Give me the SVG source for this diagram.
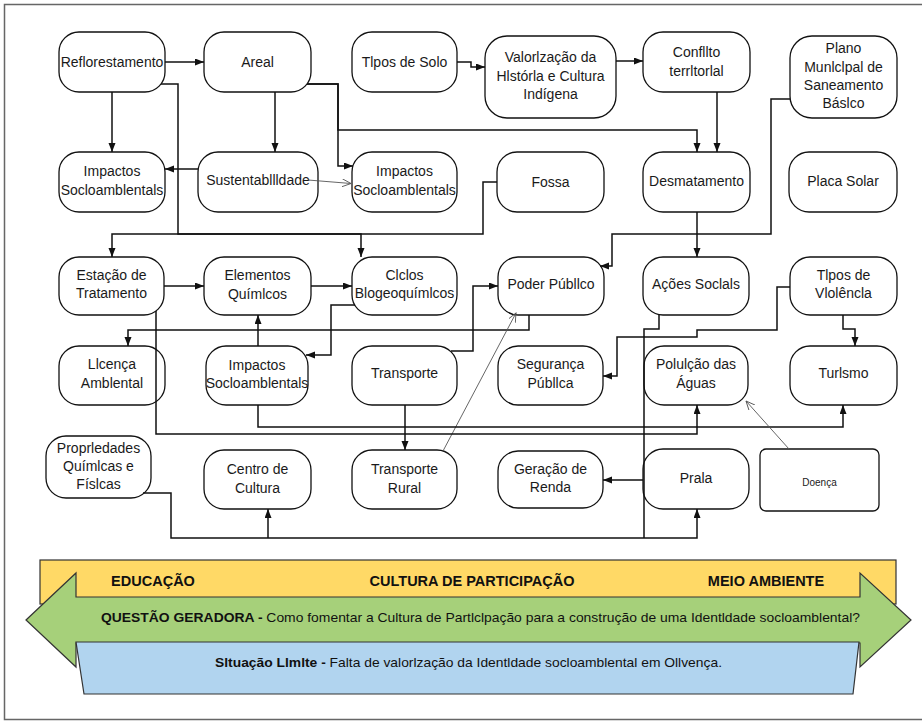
<svg xmlns="http://www.w3.org/2000/svg" width="923" height="722" viewBox="0 0 923 722">
<defs>
<marker id="ah" markerUnits="userSpaceOnUse" markerWidth="10" markerHeight="8" refX="9" refY="3.5" orient="auto"><path d="M0,0 L9,3.5 L0,7 z" fill="#111"/></marker>
<marker id="oh" markerUnits="userSpaceOnUse" markerWidth="10" markerHeight="10" refX="9" refY="4" orient="auto"><path d="M0,0 L9,4 L0,8" fill="none" stroke="#555" stroke-width="0.9"/></marker>
<style>
.n{fill:#fff;stroke:#111;stroke-width:1.3}
.t{font-family:"Liberation Sans",Arial,sans-serif;font-size:14px;text-anchor:middle;fill:#1a1a1a}
.c{fill:none;stroke:#111;stroke-width:1.5;marker-end:url(#ah)}
.p{fill:none;stroke:#111;stroke-width:1.5}
.th{fill:none;stroke:#555;stroke-width:0.9;marker-end:url(#oh)}
.b{font-family:"Liberation Sans",Arial,sans-serif;font-weight:bold;fill:#111}
.r{font-family:"Liberation Sans",Arial,sans-serif;fill:#111}
</style>
</defs>
<rect width="923" height="722" fill="#fff"/>
<path d="M922,4.5 H4.5 V719.5 H922" fill="none" stroke="#666" stroke-width="1.5"/>

<g id="nodes">
<g id="n-reflorestamento"><rect class="n" x="59" y="32" width="106" height="60" rx="20"/><text class="t" x="112" y="67">Reflorestamento</text></g>
<g id="n-areal"><rect class="n" x="204" y="32" width="107" height="60" rx="20"/><text class="t" x="257.5" y="67">Areal</text></g>
<g id="n-tipos-solo"><rect class="n" x="352" y="32" width="105" height="60" rx="20"/><text class="t" x="404.5" y="67">Tlpos de Solo</text></g>
<g id="n-valorizacao"><rect class="n" x="485" y="36" width="131" height="82" rx="22"/><text class="t" x="550.5" y="62">Valorlzação da</text><text class="t" x="550.5" y="81">Hlstórla e Cultura</text><text class="t" x="550.5" y="99">Indígena</text></g>
<g id="n-conflito"><rect class="n" x="643" y="32" width="107" height="60" rx="20"/><text class="t" x="696.5" y="57">Confllto</text><text class="t" x="696.5" y="76">terrltorlal</text></g>
<g id="n-plano"><rect class="n" x="790" y="36" width="107" height="82" rx="22"/><text class="t" x="843.5" y="53">Plano</text><text class="t" x="843.5" y="72">Munlclpal de</text><text class="t" x="843.5" y="90">Saneamento</text><text class="t" x="843.5" y="108">Báslco</text></g>

<g id="n-impactos-1"><rect class="n" x="59" y="152" width="106" height="60" rx="20"/><text class="t" x="112" y="176">Impactos</text><text class="t" x="112" y="195">Socloamblentals</text></g>
<g id="n-sustentabilidade"><rect class="n" x="198" y="152" width="120" height="60" rx="20"/><text class="t" x="258" y="185">Sustentabllldade</text></g>
<g id="n-impactos-2"><rect class="n" x="352" y="152" width="105" height="60" rx="20"/><text class="t" x="404.5" y="176">Impactos</text><text class="t" x="404.5" y="195">Socloamblentals</text></g>
<g id="n-fossa"><rect class="n" x="497" y="152" width="107" height="60" rx="20"/><text class="t" x="550.5" y="187">Fossa</text></g>
<g id="n-desmatamento"><rect class="n" x="643" y="152" width="107" height="60" rx="20"/><text class="t" x="696.5" y="186">Desmatamento</text></g>
<g id="n-placa-solar"><rect class="n" x="789" y="152" width="108" height="60" rx="20"/><text class="t" x="843" y="186">Placa Solar</text></g>

<g id="n-estacao"><rect class="n" x="59" y="257" width="105" height="58" rx="20"/><text class="t" x="111.5" y="280">Estação de</text><text class="t" x="111.5" y="298">Tratamento</text></g>
<g id="n-elementos"><rect class="n" x="204" y="257" width="107" height="58" rx="20"/><text class="t" x="257.5" y="280">Elementos</text><text class="t" x="257.5" y="299">Químlcos</text></g>
<g id="n-ciclos"><rect class="n" x="352" y="257" width="105" height="58" rx="20"/><text class="t" x="404.5" y="280">Clclos</text><text class="t" x="404.5" y="298">Blogeoquímlcos</text></g>
<g id="n-poder"><rect class="n" x="498" y="257" width="106" height="58" rx="20"/><text class="t" x="551" y="289">Poder Públlco</text></g>
<g id="n-acoes"><rect class="n" x="643" y="257" width="106" height="58" rx="20"/><text class="t" x="696" y="289">Ações Soclals</text></g>
<g id="n-tipos-violencia"><rect class="n" x="790" y="257" width="107" height="58" rx="20"/><text class="t" x="843.5" y="280">Tlpos de</text><text class="t" x="843.5" y="298">Vlolêncla</text></g>

<g id="n-licenca"><rect class="n" x="59" y="346" width="106" height="59" rx="20"/><text class="t" x="112" y="369">Llcença</text><text class="t" x="112" y="388">Amblental</text></g>
<g id="n-impactos-3"><rect class="n" x="206" y="346" width="102" height="59" rx="20"/><text class="t" x="257" y="370">Impactos</text><text class="t" x="257" y="388">Socloamblentals</text></g>
<g id="n-transporte"><rect class="n" x="352" y="346" width="105" height="59" rx="20"/><text class="t" x="404.5" y="378">Transporte</text></g>
<g id="n-seguranca"><rect class="n" x="498" y="346" width="105" height="59" rx="20"/><text class="t" x="550.5" y="369">Segurança</text><text class="t" x="550.5" y="388">Públlca</text></g>
<g id="n-poluicao"><rect class="n" x="644" y="346" width="104" height="59" rx="20"/><text class="t" x="696" y="369">Polulção das</text><text class="t" x="696" y="388">Águas</text></g>
<g id="n-turismo"><rect class="n" x="790" y="346" width="107" height="59" rx="20"/><text class="t" x="843.5" y="378">Turlsmo</text></g>

<g id="n-propriedades"><rect class="n" x="46" y="436" width="105" height="62" rx="20"/><text class="t" x="98.5" y="453">Proprledades</text><text class="t" x="98.5" y="471">Químlcas e</text><text class="t" x="98.5" y="489">Físlcas</text></g>
<g id="n-centro"><rect class="n" x="204" y="450" width="107" height="59" rx="20"/><text class="t" x="257.5" y="474">Centro de</text><text class="t" x="257.5" y="493">Cultura</text></g>
<g id="n-transporte-rural"><rect class="n" x="352" y="450" width="105" height="59" rx="20"/><text class="t" x="404.5" y="474">Transporte</text><text class="t" x="404.5" y="493">Rural</text></g>
<g id="n-geracao"><rect class="n" x="498" y="451" width="105" height="57" rx="20"/><text class="t" x="550.5" y="474">Geração de</text><text class="t" x="550.5" y="492">Renda</text></g>
<g id="n-praia"><rect class="n" x="643" y="449" width="106" height="60" rx="20"/><text class="t" x="696" y="483">Prala</text></g>
<g id="n-doenca"><rect class="n" x="760" y="449" width="119" height="62" rx="6"/><text class="t" x="819.5" y="486" style="font-size:10px">Doença</text></g>
</g>

<g id="connectors">
<path class="c" d="M165,62 H204"/>
<path class="c" d="M112,92 V152"/>
<path class="c" d="M161,84 H178 V234 H361 V257"/>
<path class="c" d="M497,182 H483 V234 H112 V257"/>
<path class="c" d="M275,92 V152"/>
<path class="c" d="M307,84 H338 V166 H353"/>
<path class="c" d="M307,84 H338 V130 H697 V152"/>
<path class="c" d="M198,169 H165"/>
<path class="th" d="M308,180 L351,183.5"/>
<path class="c" d="M457,62 H471 V67 H485"/>
<path class="c" d="M616,61 H643"/>
<path class="c" d="M717,92 V152"/>
<path class="c" d="M790,99 H771 V234 H612 V266 H600"/>
<path class="c" d="M697,212 V257"/>
<path class="c" d="M164,286 H204"/>
<path class="c" d="M311,286 H352"/>
<path class="c" d="M355,305 H331 V355 H306"/>
<path class="c" d="M258,346 V315"/>
<path class="c" d="M529,315 V330 H128 V346"/>
<path class="c" d="M451,351 H473 V286 H498"/>
<path class="c" d="M405,405 V450"/>
<path class="th" d="M443,451 L516,313"/>
<path class="c" d="M156,311 V434 H697 V405"/>
<path class="c" d="M258,405 V427 H843 V405"/>
<path class="c" d="M790,287 H777 V330 H697 V337 H617 V376 H603"/>
<path class="c" d="M843,315 V329 H855 V346"/>
<path class="p" d="M659,315 V329 H644 V538"/>
<path class="c" d="M643,480 H603"/>
<path class="c" d="M143,493 H171 V538 H697 V509"/>
<path class="c" d="M268,538 V509"/>
<path class="th" d="M789,449 L746,401"/>
</g>

<g id="banner">
<rect x="40" y="560" width="856" height="44" fill="#FFD966" stroke="#333" stroke-width="1.2"/>
<polygon points="26,620 76,573 76,597 860,597 860,573 911,620 860,667 860,643 76,643 76,667" fill="#A6D07A" stroke="#333" stroke-width="1.2"/>
<polygon points="76,642 859,642 853,694 84,694" fill="#B1D4EF" stroke="#333" stroke-width="1.2"/>
<text class="b" x="153" y="586" text-anchor="middle" font-size="14.5">EDUCAÇÃO</text>
<text class="b" x="472" y="586" text-anchor="middle" font-size="14.5">CULTURA DE PARTICIPAÇÃO</text>
<text class="b" x="766" y="586" text-anchor="middle" font-size="14.5">MEIO AMBIENTE</text>
<text x="101" y="622" font-size="13.5" class="r" textLength="759" lengthAdjust="spacingAndGlyphs"><tspan class="b">QUESTÃO GERADORA - </tspan>Como fomentar a Cultura de Partlclpação para a construção de uma Identldade socloamblental?</text>
<text x="215" y="667" font-size="13.5" class="r" textLength="507" lengthAdjust="spacingAndGlyphs"><tspan class="b">Sltuação Llmlte - </tspan>Falta de valorlzação da Identldade socloamblental em Ollvença.</text>
</g>
</svg>
